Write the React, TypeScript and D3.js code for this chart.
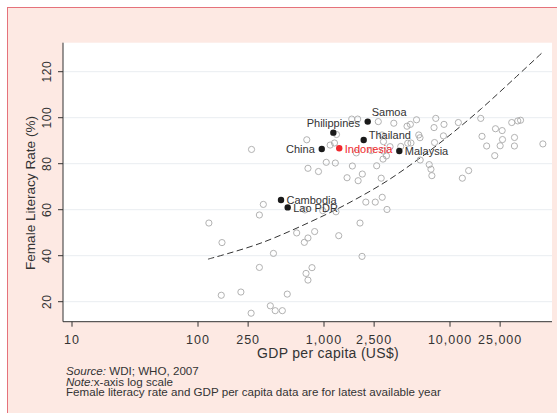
import React from 'react';
import * as d3 from 'd3';

// Open circles: other countries (GDP per capita US$, female literacy %)
const gdp = [
  122, 155, 266, 307, 330, 397, 307, 153, 219, 264, 375, 410, 467, 511, 607, 746, 698, 843, 720, 803,
  746, 1309, 706, 977, 1245, 1931, 2004, 2148, 2552, 2898, 3162, 730, 1256, 1119, 1211, 746, 904, 1042, 1230, 1679,
  1524, 1866, 2014, 1804, 2618, 2844, 2940, 3132, 2965, 2884, 2958, 3342, 1660, 1851, 2697, 3581, 4560, 4845, 5425, 4064,
  4617, 4900, 5650, 5780, 5800, 6840, 7060, 7180, 7540, 7710, 8960, 7470, 11650, 17540, 30900, 34500, 36300, 22960, 25940, 8870,
  17950, 26100, 19540, 25000, 32500, 32450, 22650, 12530, 14060, 54600, 2371,
];
const literacy = [
  54.2, 45.7, 86.2, 57.7, 62.3, 41.0, 34.9, 22.8, 24.2, 15.0, 18.2, 16.1, 16.1, 23.3, 49.9, 47.7, 45.8, 50.5, 32.3, 34.8,
  29.4, 48.7, 59.9, 59.6, 59.1, 54.2, 39.7, 63.3, 63.3, 65.4, 60.1, 90.4, 92.7, 88.1, 89.0, 78.0, 76.6, 80.6, 80.3, 79.0,
  73.9, 72.6, 75.5, 84.7, 79.1, 73.7, 82.0, 83.4, 89.6, 92.5, 85.5, 87.4, 99.4, 99.4, 98.3, 97.6, 96.3, 97.1, 99.1, 87.5,
  88.9, 89.0, 92.5, 91.3, 81.6, 79.6, 77.6, 74.8, 89.2, 99.7, 97.1, 95.7, 97.9, 99.7, 97.9, 98.6, 98.9, 95.2, 94.4, 92.1,
  91.9, 90.5, 87.7, 87.8, 91.4, 87.7, 83.5, 73.7, 77.0, 88.6, 85.7,
];

// Highlighted countries
const countries = ['Samoa', 'Philippines', 'Thailand', 'China', 'Indonesia', 'Malaysia', 'Cambodia', 'Lao PDR'];
const countryGdp = [2223, 1186, 2065, 960, 1321, 3961, 456, 515];
const countryLit = [98.3, 93.5, 90.3, 86.4, 86.7, 85.5, 64.2, 61.0];
const labelClock = [1, 12, 2, 9, 3, 3, 3, 3];

// Fitted trend (dashed)
const trendGdp = [120, 316, 1000, 1778, 3162, 5623, 10000, 17783, 31623, 54954];
const trendLit = [38.5, 45.5, 57.5, 64.5, 72.5, 82, 92.5, 104, 116.5, 128.7];

const xTicks = [10, 100, 250, 1000, 2500, 10000, 25000];
const yTicks = [20, 40, 60, 80, 100, 120];

const FONT = "'Liberation Sans', Arial, Helvetica, sans-serif";

export default function App() {
  const W = 557, H = 413;
  const left = 63, right = 552, top = 42.7, bottom = 321.7;
  const x = d3.scaleLog().domain([10, 10000]).range([72, 450]);
  const y = d3.scaleLinear().domain([20, 120]).range([301.7, 71.7]);
  const fmt = d3.format(',');

  const line = d3
    .line<number>()
    .x((_, i) => x(trendGdp[i]))
    .y((_, i) => y(trendLit[i]))
    .curve(d3.curveCatmullRom);

  const off = (c: number) => {
    switch (c) {
      case 1: return { dx: 4, dy: -9, anchor: 'start' };
      case 2: return { dx: 5, dy: -5, anchor: 'start' };
      case 12: return { dx: 0, dy: -9.5, anchor: 'middle' };
      case 9: return { dx: -7, dy: 0, anchor: 'end' };
      default: return { dx: 5.5, dy: 0.5, anchor: 'start' };
    }
  };

  return (
    <svg width={W} height={H} style={{ position: 'absolute', left: 0, top: 0, fontFamily: FONT }}>
      <rect x={0} y={0} width={W} height={H} fill="#ffffff" />
      <rect x={7.5} y={7.5} width={W + 20} height={H + 20} fill="#fde9e3" stroke="#e5727b" strokeWidth={1} />
      <rect x={left} y={top} width={right - left} height={bottom - top} fill="#ffffff" />
      {yTicks.map((t) => (
        <line key={'g' + t} x1={left} x2={right} y1={y(t)} y2={y(t)} stroke="#e9edf1" strokeWidth={1} />
      ))}
      <path d={line(trendGdp) || ''} fill="none" stroke="#333" strokeWidth={1} strokeDasharray="6.5,3.5" />
      {gdp.map((g, i) => (
        <circle key={'o' + i} cx={x(g)} cy={y(literacy[i])} r={3.1} fill="none" stroke="#a9a9a9" strokeWidth={0.9} />
      ))}
      {countries.map((c, i) => {
        const o = off(labelClock[i]);
        const red = c === 'Indonesia';
        const cx = x(countryGdp[i]);
        const cy = y(countryLit[i]);
        return (
          <g key={c}>
            <circle cx={cx} cy={cy} r={3.2} fill={red ? '#f0282d' : '#1a1a1a'} />
            <text x={cx + o.dx} y={cy + o.dy} dy="0.35em" textAnchor={o.anchor} fontSize={11} fill={red ? '#f0282d' : '#333'}>
              {c}
            </text>
          </g>
        );
      })}
      {/* axes */}
      <line x1={left} x2={left} y1={top} y2={bottom} stroke="#333" strokeWidth={1} />
      <line x1={left} x2={right} y1={bottom} y2={bottom} stroke="#333" strokeWidth={1} />
      {yTicks.map((t) => (
        <g key={'y' + t}>
          <line x1={left - 5} x2={left} y1={y(t)} y2={y(t)} stroke="#333" />
          <text
            x={47}
            y={y(t)}
            dy="0.35em"
            textAnchor="middle"
            fontSize={12}
            letterSpacing={0.6}
            fill="#333"
            transform={`rotate(-90, 47, ${y(t)})`}
          >
            {t}
          </text>
        </g>
      ))}
      {xTicks.map((t) => (
        <g key={'x' + t}>
          <line x1={x(t)} x2={x(t)} y1={bottom} y2={bottom + 5} stroke="#333" />
          <text x={x(t)} y={343.7} textAnchor="middle" fontSize={12.5} letterSpacing={1} fill="#333">
            {fmt(t)}
          </text>
        </g>
      ))}
      <text x={328} y={358} textAnchor="middle" fontSize={14} letterSpacing={0.3} fill="#333">
        GDP per capita (US$)
      </text>
      <text x={35} y={193} textAnchor="middle" fontSize={13.6} fill="#333" transform="rotate(-90, 35, 193)">
        Female Literacy Rate (%)
      </text>
      <g fontSize={11.6} fill="#333">
        <text x={66} y={375}>
          <tspan fontStyle="italic">Source:</tspan> WDI;  WHO, 2007
        </text>
        <text x={66} y={385.7}>
          <tspan fontStyle="italic">Note:</tspan>x-axis log scale
        </text>
        <text x={66} y={396.4}>Female literacy rate and GDP per capita data are for latest available year</text>
      </g>
    </svg>
  );
}
